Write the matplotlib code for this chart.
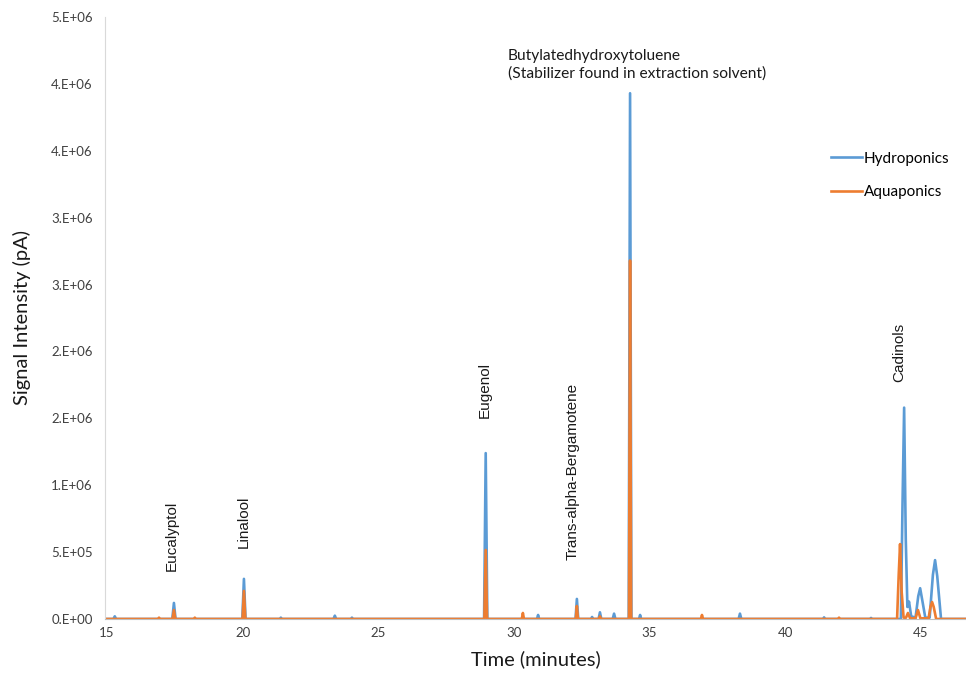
import matplotlib
matplotlib.use("Agg")
import matplotlib.pyplot as plt

# Chromatogram traces (time in minutes, signal in pA)
hydro_time = [14.93, 15.24, 15.29, 15.34, 17.41, 17.47, 17.53, 19.99, 20.05, 20.11,
              21.37, 21.41, 21.45, 23.35, 23.40, 23.45, 23.99, 24.03, 24.07,
              28.90, 28.96, 29.02, 30.85, 30.89, 30.93, 32.27, 32.32, 32.37,
              32.84, 32.88, 32.92, 33.12, 33.17, 33.22, 33.64, 33.69, 33.74,
              34.23, 34.28, 34.33, 34.61, 34.65, 34.69, 38.28, 38.33, 38.38,
              41.39, 41.43, 41.47, 43.12, 43.16, 43.20,
              44.26, 44.32, 44.38, 44.44, 44.50, 44.56, 44.64, 44.80, 44.90, 44.97,
              45.04, 45.16, 45.32, 45.44, 45.52, 45.60, 45.74, 46.66]
hydro_signal = [0, 0, 0.02e6, 0, 0, 0.12e6, 0, 0, 0.30e6, 0,
                0, 0.01e6, 0, 0, 0.025e6, 0, 0, 0.01e6, 0,
                0, 1.24e6, 0, 0, 0.03e6, 0, 0, 0.15e6, 0,
                0, 0.015e6, 0, 0, 0.05e6, 0, 0, 0.04e6, 0,
                0, 3.93e6, 0, 0, 0.03e6, 0, 0, 0.04e6, 0,
                0, 0.012e6, 0, 0, 0.008e6, 0,
                0, 0.85e6, 1.58e6, 0.60e6, 0.09e6, 0.13e6, 0.02e6, 0.01e6, 0.17e6, 0.23e6,
                0.15e6, 0.01e6, 0.01e6, 0.33e6, 0.44e6, 0.32e6, 0, 0]

aqua_time = [14.93, 16.88, 16.92, 16.96, 17.42, 17.47, 17.52, 18.20, 18.24, 18.28,
             20.00, 20.05, 20.10, 28.91, 28.96, 29.01, 30.29, 30.33, 30.37,
             32.28, 32.32, 32.36, 33.13, 33.17, 33.21, 34.24, 34.28, 34.32,
             36.89, 36.93, 36.97, 41.94, 41.98, 42.02,
             44.12, 44.18, 44.23, 44.29, 44.36, 44.45, 44.52, 44.60, 44.80, 44.89, 44.98,
             45.28, 45.35, 45.41, 45.47, 45.56, 46.66]
aqua_signal = [0, 0, 0.01e6, 0, 0, 0.067e6, 0, 0, 0.01e6, 0,
               0, 0.21e6, 0, 0, 0.516e6, 0, 0, 0.045e6, 0,
               0, 0.097e6, 0, 0, 0.02e6, 0, 0, 2.68e6, 0,
               0, 0.03e6, 0, 0, 0.01e6, 0,
               0, 0.33e6, 0.56e6, 0.20e6, 0.01e6, 0.01e6, 0.045e6, 0.005e6, 0.005e6, 0.067e6, 0.005e6,
               0.005e6, 0.09e6, 0.127e6, 0.09e6, 0, 0]

# Peak labels: name, time, signal where the text starts
peak_names = ["Eucalyptol", "Linalool", "Eugenol", "Trans-alpha-Bergamotene", "Cadinols"]
peak_label_time = [17.40, 20.05, 28.93, 32.18, 44.19]
peak_label_signal = [0.36e6, 0.53e6, 1.50e6, 0.44e6, 1.77e6]

bht_note = "Butylatedhydroxytoluene\n(Stabilizer found in extraction solvent)"
bht_time = 29.78
bht_signal = 4.145e6

y_ticks = [0, 0.5e6, 1.0e6, 1.5e6, 2.0e6, 2.5e6, 3.0e6, 3.5e6, 4.0e6, 4.5e6]
y_tick_labels = ["0.E+00", "5.E+05", "1.E+06", "2.E+06", "2.E+06",
                 "3.E+06", "3.E+06", "4.E+06", "4.E+06", "5.E+06"]
x_ticks = [15, 20, 25, 30, 35, 40, 45]

blue = "#5B9BD5"
orange = "#ED7D31"

fig = plt.figure(figsize=(9.66, 6.73), dpi=100)
ax = fig.add_axes([105 / 966, 1 - 619 / 673, 861 / 966, 602 / 673])

ax.plot(hydro_time, hydro_signal, color=blue, lw=1.9, label="Hydroponics")
ax.plot(aqua_time, aqua_signal, color=orange, lw=1.9, label="Aquaponics")

ax.set_xlim(14.93, 46.66)
ax.set_ylim(0, 4.5e6)
ax.set_xticks(x_ticks)
ax.set_xticklabels([str(t) for t in x_ticks], family="Lato", fontsize=9.5, color="#404040")
ax.set_yticks(y_ticks)
ax.set_yticklabels(y_tick_labels, family="Lato", fontsize=9.5, color="#404040")
ax.tick_params(length=0)
ax.tick_params(axis="y", pad=9)
ax.tick_params(axis="x", pad=6)

for side in ["top", "right"]:
    ax.spines[side].set_visible(False)
ax.spines["left"].set_color("#D9D9D9")
ax.spines["bottom"].set_color("#BFBFBF")

ax.set_xlabel("Time (minutes)", family="Lato", fontsize=14.5, color="#1a1a1a", labelpad=8)
ax.set_ylabel("Signal Intensity (pA)", family="Lato", fontsize=14.5, color="#1a1a1a", labelpad=14)

for name, t, s in zip(peak_names, peak_label_time, peak_label_signal):
    ax.text(t, s, name, rotation=90, ha="center", va="bottom",
            family="Liberation Sans", fontsize=11, color="#1a1a1a")

ax.text(bht_time, bht_signal, bht_note, ha="left", va="center",
        family="Lato", fontsize=11.2, color="#1a1a1a", linespacing=1.3)

ax.legend(loc="center left", bbox_to_anchor=(831 / 966, 1 - 175.5 / 673),
          bbox_transform=fig.transFigure, frameon=False, borderpad=0,
          borderaxespad=0, handlelength=2.0, handletextpad=0.15,
          labelspacing=1.3, prop={"family": "Lato", "size": 11})

fig.savefig("out.png", dpi=100)
